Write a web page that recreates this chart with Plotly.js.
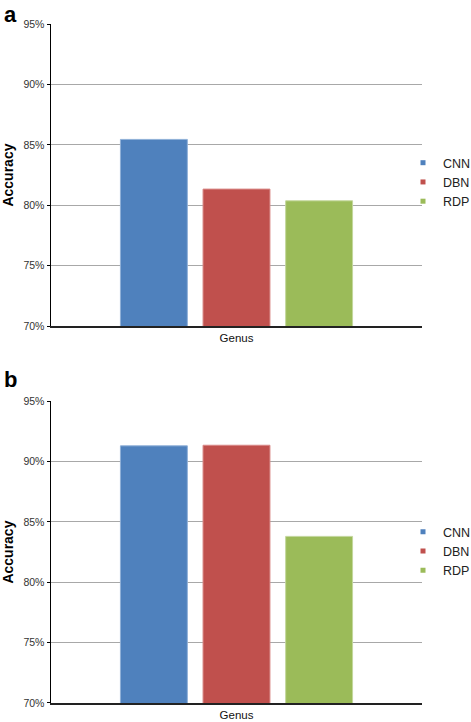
<!DOCTYPE html>
<html>
<head>
<meta charset="utf-8">
<script src="https://cdn.plot.ly/plotly-3.0.1.min.js"></script>
<style>
  html, body { margin: 0; padding: 0; background: #fff; }
  #chart { width: 471px; height: 722px; }
</style>
</head>
<body>
<div id="chart"></div>
<script>
// ---- data ----
const categories = ['Genus'];
const seriesNames = ['CNN', 'DBN', 'RDP'];
const accuracyA = [0.8545, 0.8134, 0.8037];   // panel a
const accuracyB = [0.9130, 0.9135, 0.8380];   // panel b
const yTickVals = [0.70, 0.75, 0.80, 0.85, 0.90, 0.95];
const yTickText = ['70%', '75%', '80%', '85%', '90%', '95%'];
const panelLabels = ['a', 'b'];

// ---- styles ----
const colors = ['#4f81bd', '#c0504d', '#9bbb59'];
const edgeColors = ['#8fb0d8', '#d98a88', '#c3d79c'];
const fontFam = 'Liberation Sans, Arial, Helvetica, sans-serif';

const traces = [];
seriesNames.forEach((name, i) => {
  traces.push({
    type: 'bar', name: name, x: categories, y: [accuracyA[i]],
    xaxis: 'x', yaxis: 'y',
    marker: { color: colors[i], line: { color: edgeColors[i], width: 1 } },
    showlegend: false, hoverinfo: 'skip'
  });
  traces.push({
    type: 'bar', name: name, x: categories, y: [accuracyB[i]],
    xaxis: 'x2', yaxis: 'y2',
    marker: { color: colors[i], line: { color: edgeColors[i], width: 1 } },
    showlegend: false, hoverinfo: 'skip'
  });
});
// legend entries (small square keys, like the original)
seriesNames.forEach((name, i) => {
  traces.push({
    type: 'scatter', mode: 'markers', name: name, x: [null], y: [null],
    xaxis: 'x', yaxis: 'y', legend: 'legend',
    marker: { symbol: 'square', size: 5, color: colors[i] }
  });
  traces.push({
    type: 'scatter', mode: 'markers', name: name, x: [null], y: [null],
    xaxis: 'x2', yaxis: 'y2', legend: 'legend2',
    marker: { symbol: 'square', size: 5, color: colors[i] }
  });
});

const yAxisCommon = {
  range: [0.70, 0.95],
  tickvals: yTickVals,
  ticktext: yTickText,
  ticks: 'outside', ticklen: 3, tickwidth: 1, tickcolor: '#000',
  showline: true, linecolor: '#000', linewidth: 1.5,
  showgrid: true, gridcolor: '#a8a8a8', gridwidth: 1,
  zeroline: false,
  tickfont: { family: fontFam, size: 10.5, color: '#333' },
  title: { text: 'Accuracy', font: { family: fontFam, size: 14, color: '#000', weight: 'bold' }, standoff: 8 },
  automargin: false, fixedrange: true
};
const xAxisCommon = {
  type: 'category',
  showline: true, linecolor: '#222', linewidth: 2,
  ticks: '', showgrid: false, zeroline: false,
  tickfont: { family: fontFam, size: 11.5, color: '#111' },
  automargin: false, fixedrange: true
};

const plotBottom = 702.7, plotTop = 24, H = 722;
const plotH = plotBottom - plotTop;
const toPaperY = px => (plotBottom - px) / plotH;

const layout = {
  width: 471, height: 722,
  margin: { l: 51, r: 49, t: 24, b: H - plotBottom, autoexpand: false },
  paper_bgcolor: '#fff', plot_bgcolor: '#fff',
  barmode: 'group', bargap: 0.332, bargroupgap: 0.19,
  font: { family: fontFam, color: '#222' },
  xaxis: Object.assign({}, xAxisCommon, { anchor: 'y', domain: [0, 1] }),
  yaxis: Object.assign({}, yAxisCommon, { anchor: 'x', domain: [toPaperY(326), 1] }),
  xaxis2: Object.assign({}, xAxisCommon, { anchor: 'y2', domain: [0, 1] }),
  yaxis2: Object.assign({}, yAxisCommon, { anchor: 'x2', domain: [0, toPaperY(401)] }),
  legend: {
    x: (403 - 51) / 371, xanchor: 'left',
    y: toPaperY(182), yanchor: 'middle',
    bgcolor: 'rgba(0,0,0,0)', font: { family: fontFam, size: 12.5, color: '#222' },
    tracegroupgap: 0
  },
  legend2: {
    x: (403 - 51) / 371, xanchor: 'left',
    y: toPaperY(551), yanchor: 'middle',
    bgcolor: 'rgba(0,0,0,0)', font: { family: fontFam, size: 12.5, color: '#222' },
    tracegroupgap: 0
  },
  annotations: [
    { text: '<b>' + panelLabels[0] + '</b>', xref: 'paper', yref: 'paper',
      x: -49 / 371, xanchor: 'left', y: toPaperY(0), yanchor: 'top', showarrow: false,
      font: { family: fontFam, size: 22, color: '#000' } },
    { text: '<b>' + panelLabels[1] + '</b>', xref: 'paper', yref: 'paper',
      x: -49 / 371, xanchor: 'left', y: toPaperY(365), yanchor: 'top', showarrow: false,
      font: { family: fontFam, size: 22, color: '#000' } }
  ],
  showlegend: true
};

Plotly.newPlot('chart', traces, layout, { staticPlot: true, displayModeBar: false });
</script>
</body>
</html>
